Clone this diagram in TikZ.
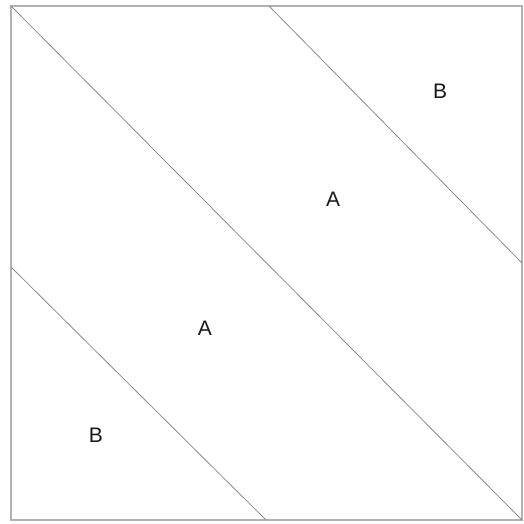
\documentclass[tikz,border=0pt]{standalone}
\usepackage{fontspec}
\setmainfont{Liberation Sans}
\begin{document}
\begin{tikzpicture}[x=1pt,y=-1pt,
  frame/.style={draw=black!30,line width=1.2pt},
  divider/.style={draw=black!45,line width=0.8pt},
  lbl/.style={font=\fontsize{21}{22}\selectfont,text=black!90,inner sep=0pt}]
\useasboundingbox (0,0) rectangle (524,523);
\coordinate (tl) at (11,6);
\coordinate (br) at (522,520);
\draw[frame] (tl) rectangle (br);
\coordinate (ut) at (269,6);
\coordinate (ur) at (522,263);
\coordinate (ll) at (11,267);
\coordinate (lb) at (266,520);
\draw[divider] (tl) -- (br);
\draw[divider] (ut) -- (ur);
\draw[divider] (ll) -- (lb);
\node[lbl] (b1) at (440,91) {B};
\node[lbl] (a1) at (333,199) {A};
\node[lbl] (a2) at (205,328) {A};
\node[lbl] (b2) at (96,435) {B};
\end{tikzpicture}
\end{document}
